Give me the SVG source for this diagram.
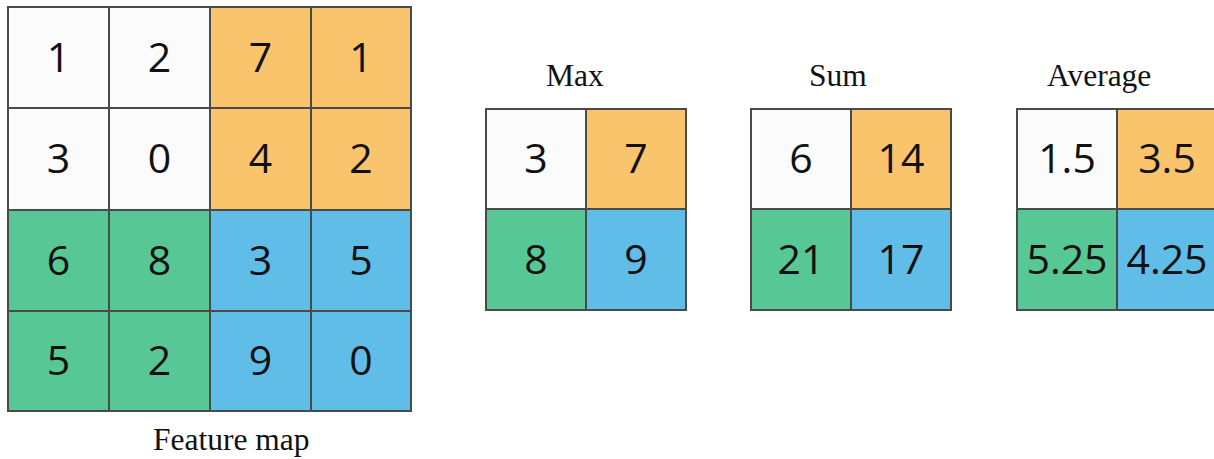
<svg xmlns="http://www.w3.org/2000/svg" width="1214" height="459" viewBox="0 0 1214 459">
<style>
.c{stroke:#4a4a4a;stroke-width:2}
.w{fill:#fbfbfb}.o{fill:#f9c46b}.g{fill:#57c795}.b{fill:#5fbde8}
.n{font-family:"Open Sans","Noto Sans",sans-serif;font-size:41px;fill:#111;text-anchor:middle}
.l{font-family:"Liberation Serif",serif;font-size:31.5px;fill:#111}
</style>
<rect width="1214" height="459" fill="#ffffff"/>
<g id="feature-map">
<rect class="c w" x="8" y="7" width="101" height="101"/>
<rect class="c w" x="109" y="7" width="101" height="101"/>
<rect class="c o" x="210" y="7" width="101" height="101"/>
<rect class="c o" x="311" y="7" width="100" height="101"/>
<rect class="c w" x="8" y="108" width="101" height="102"/>
<rect class="c w" x="109" y="108" width="101" height="102"/>
<rect class="c o" x="210" y="108" width="101" height="102"/>
<rect class="c o" x="311" y="108" width="100" height="102"/>
<rect class="c g" x="8" y="210" width="101" height="101"/>
<rect class="c g" x="109" y="210" width="101" height="101"/>
<rect class="c b" x="210" y="210" width="101" height="101"/>
<rect class="c b" x="311" y="210" width="100" height="101"/>
<rect class="c g" x="8" y="311" width="101" height="100"/>
<rect class="c g" x="109" y="311" width="101" height="100"/>
<rect class="c b" x="210" y="311" width="101" height="100"/>
<rect class="c b" x="311" y="311" width="100" height="100"/>
<text class="n" x="58.5" y="72">1</text><text class="n" x="159.5" y="72">2</text><text class="n" x="260.5" y="72">7</text><text class="n" x="361" y="72">1</text>
<text class="n" x="58.5" y="173">3</text><text class="n" x="159.5" y="173">0</text><text class="n" x="260.5" y="173">4</text><text class="n" x="361" y="173">2</text>
<text class="n" x="58.5" y="275">6</text><text class="n" x="159.5" y="275">8</text><text class="n" x="260.5" y="275">3</text><text class="n" x="361" y="275">5</text>
<text class="n" x="58.5" y="375">5</text><text class="n" x="159.5" y="375">2</text><text class="n" x="260.5" y="375">9</text><text class="n" x="361" y="375">0</text>
<text class="l" x="153" y="450">Feature map</text>
</g>
<g id="max">
<text class="l" x="546" y="86">Max</text>
<rect class="c w" x="486" y="109" width="100" height="100"/>
<rect class="c o" x="586" y="109" width="100" height="100"/>
<rect class="c g" x="486" y="209" width="100" height="101"/>
<rect class="c b" x="586" y="209" width="100" height="101"/>
<text class="n" x="536" y="173">3</text><text class="n" x="636" y="173">7</text>
<text class="n" x="536" y="274">8</text><text class="n" x="636" y="274">9</text>
</g>
<g id="sum">
<text class="l" x="809" y="86">Sum</text>
<rect class="c w" x="751" y="109" width="100" height="100"/>
<rect class="c o" x="851" y="109" width="100" height="100"/>
<rect class="c g" x="751" y="209" width="100" height="101"/>
<rect class="c b" x="851" y="209" width="100" height="101"/>
<text class="n" x="801" y="173">6</text><text class="n" x="901" y="173">14</text>
<text class="n" x="801" y="274">21</text><text class="n" x="901" y="274">17</text>
</g>
<g id="average">
<text class="l" x="1047" y="86">Average</text>
<rect class="c w" x="1017" y="109" width="100" height="100"/>
<rect class="c o" x="1117" y="109" width="100" height="100"/>
<rect class="c g" x="1017" y="209" width="100" height="101"/>
<rect class="c b" x="1117" y="209" width="100" height="101"/>
<text class="n" x="1067" y="173">1.5</text><text class="n" x="1167" y="173">3.5</text>
<text class="n" x="1067" y="274">5.25</text><text class="n" x="1167" y="274">4.25</text>
</g>
<g id="connectors"></g>
</svg>
